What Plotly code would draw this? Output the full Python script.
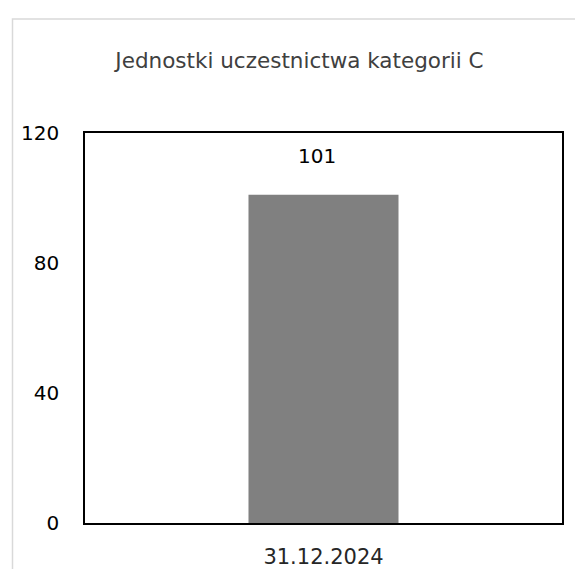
import plotly.graph_objects as go

title_text = "Jednostki uczestnictwa kategorii C"
categories = ["31.12.2024"]
values = [101]
y_ticks = [0, 40, 80, 120]

W, H = 583, 569
ml, mr, mt, mb = 77, 29, 125, 54
pw = W - ml - mr
ph = H - mt - mb

def px_to_paper_x(px):
    return (px - ml) / pw

def px_to_paper_y(py):
    return (H - mb - py) / ph

fig = go.Figure()
fig.add_trace(go.Bar(
    x=categories, y=values,
    marker=dict(color="#808080", line=dict(width=0)),
    width=0.3145,
    hoverinfo="skip",
))

for c, v in zip(categories, values):
    fig.add_annotation(
        x=c, y=v, text=str(v), showarrow=False,
        yanchor="middle", yshift=39, xshift=-7,
        font=dict(family="DejaVu Sans", size=20, color="#000000"),
    )

fig.add_shape(
    type="rect", xref="paper", yref="paper",
    x0=px_to_paper_x(4.5), x1=px_to_paper_x(595),
    y0=px_to_paper_y(585), y1=px_to_paper_y(11),
    line=dict(color="#d9d9d9", width=1.5),
    fillcolor="rgba(0,0,0,0)", layer="below",
)

fig.update_layout(
    width=W, height=H,
    margin=dict(l=ml, r=mr, t=mt, b=mb, autoexpand=False),
    paper_bgcolor="white", plot_bgcolor="white",
    showlegend=False,
    title=dict(
        text=title_text, x=0.5, xref="container", xanchor="center",
        y=1 - 52 / H, yref="container", yanchor="middle",
        font=dict(family="DejaVu Sans", size=21.5, color="#404040"),
    ),
    font=dict(family="DejaVu Sans", size=20, color="#000000"),
)

fig.update_xaxes(
    range=[-0.5, 0.5], showgrid=False, zeroline=False,
    showline=True, linecolor="#000000", linewidth=1.5, mirror=True,
    ticks="", ticklabelstandoff=14,
    tickfont=dict(family="DejaVu Sans", size=21, color="#262626"),
)
fig.update_yaxes(
    range=[0, 120], tickvals=y_ticks, showgrid=False, zeroline=False,
    showline=True, linecolor="#000000", linewidth=1.5, mirror=True,
    ticks="", ticklabelstandoff=20,
    tickfont=dict(family="DejaVu Sans", size=20, color="#000000"),
)

fig.write_html("out.html")
